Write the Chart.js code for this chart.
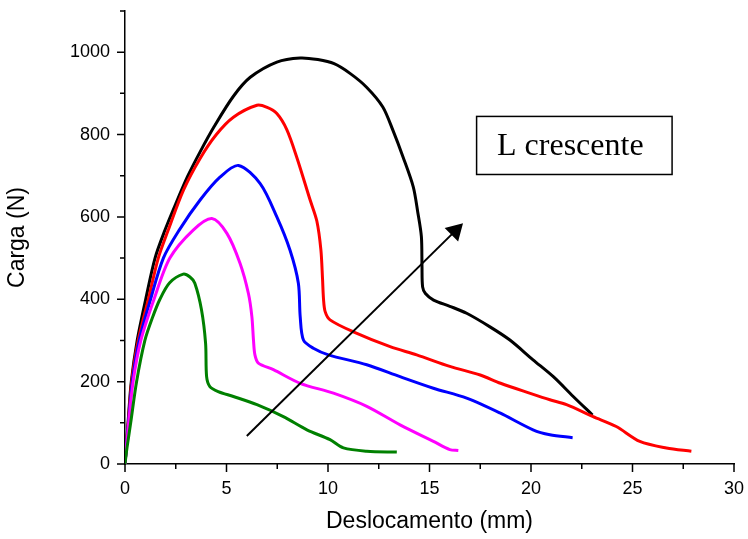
<!DOCTYPE html>
<html>
<head>
<meta charset="utf-8">
<script src="https://cdn.jsdelivr.net/npm/chart.js@4"></script>
<style>
	html, body { margin: 0; padding: 0; background: #fff; }
	#wrap { width: 748px; height: 539px; }
</style>
</head>
<body>
<div id="wrap"><canvas id="cargaChart"></canvas></div>
<script>
// data (x = mm, y = N)
const blackX = [0, 0.15, 0.31, 0.6, 1.02, 1.48, 1.97, 2.5, 3.1, 3.7, 4.4, 5.34, 6.17, 7.48, 8.63, 9.5, 10.3, 11.1, 11.9, 12.7, 13.2, 13.7, 14.2, 14.42, 14.6, 14.63, 14.66, 14.8, 15.2, 16.0, 16.83, 17.98, 18.96, 20.1, 21.1, 22.08, 23.03];
const blackY = [0, 100, 200, 300, 400, 500, 568, 632, 700, 758, 820, 893, 939, 976, 986, 982, 972, 948, 915, 867, 810, 745, 673, 612, 552, 480, 430, 414, 398, 383, 366, 333, 301, 253, 212, 164, 119];

const redX = [0, 0.16, 0.33, 0.65, 1.15, 1.64, 2.13, 2.88, 3.7, 4.5, 5.34, 6.5, 7.0, 7.48, 7.97, 8.46, 9.12, 9.45, 9.65, 9.73, 9.78, 9.86, 10.1, 11.25, 13.06, 14.37, 16.0, 17.5, 18.5, 20.0, 20.93, 21.75, 23.06, 24.2, 25.36, 26.67, 27.9];
const redY = [0, 100, 200, 300, 400, 500, 568, 665, 742, 800, 842, 871, 866, 851, 812, 745, 641, 590, 520, 450, 400, 370, 350, 321, 285, 265, 237, 216, 196, 171, 156, 144, 115, 91, 55, 39, 31];

const blueX = [0, 0.17, 0.36, 0.7, 1.26, 1.89, 2.67, 3.7, 4.69, 5.59, 6.66, 7.48, 8.13, 8.54, 8.63, 8.79, 9.28, 10.02, 11.91, 13.55, 15.19, 16.83, 18.47, 20.1, 20.93, 22.05];
const blueY = [0, 100, 200, 300, 400, 500, 568, 641, 697, 725, 681, 600, 519, 439, 358, 301, 281, 265, 241, 212, 184, 160, 124, 83, 71, 64];

const magentaX = [0, 0.18, 0.4, 0.78, 1.43, 2.21, 3.36, 4.28, 5.02, 5.67, 6.08, 6.25, 6.33, 6.4, 6.57, 7.31, 8.63, 10.27, 11.91, 13.55, 15.19, 16.0, 16.42];
const magentaY = [0, 100, 200, 300, 400, 500, 568, 596, 560, 487, 414, 358, 300, 265, 245, 229, 196, 172, 140, 95, 55, 35, 33];

const greenX = [0, 0.1, 0.28, 0.57, 0.98, 1.35, 1.72, 2.2, 2.87, 3.2, 3.44, 3.77, 3.97, 4.02, 4.18, 4.59, 5.34, 6.5, 7.8, 8.96, 10.1, 10.76, 11.91, 13.39];
const greenY = [0, 40, 100, 200, 300, 355, 400, 440, 461, 454, 439, 374, 293, 212, 188, 176, 164, 144, 115, 83, 59, 39, 31, 29];

// arrow "L crescente"
const arrowX = [6.0, 16.27];
const arrowY = [68, 566];

// text box corners (data units)
const boxX = [17.32, 26.95];
const boxY = [844, 703];
const boxLabel = 'L crescente';

const xTicks = [0, 5, 10, 15, 20, 25, 30];
const yTicks = [0, 200, 400, 600, 800, 1000];

function toPoints(xs, ys) {
	return xs.map((x, i) => ({ x: x, y: ys[i] }));
}

function curve(xs, ys, color) {
	return {
		data: toPoints(xs, ys),
		borderColor: color,
		backgroundColor: color,
		borderWidth: 3,
		pointRadius: 0,
		showLine: true,
		tension: 0.3,
		fill: false,
	};
}

// tick marks (major + minor, outward) and the text box
const decorPlugin = {
	id: 'decor',
	afterDraw(chart) {
		const ctx = chart.ctx;
		const xs = chart.scales.x;
		const ys = chart.scales.y;
		const area = chart.chartArea;
		ctx.save();
		ctx.strokeStyle = '#000';
		ctx.lineWidth = 1.5;
		ctx.beginPath();
		for (let v = 0; v <= 30; v += 2.5) {
			const px = xs.getPixelForValue(v);
			const len = (v % 5 === 0) ? 8 : 5;
			ctx.moveTo(px, area.bottom);
			ctx.lineTo(px, area.bottom + len);
		}
		for (let v = 0; v <= 1100; v += 100) {
			const py = ys.getPixelForValue(v);
			const len = (v % 200 === 0) ? 8 : 5;
			ctx.moveTo(area.left, py);
			ctx.lineTo(area.left - len, py);
		}
		ctx.stroke();

		// box
		const bx1 = xs.getPixelForValue(boxX[0]);
		const bx2 = xs.getPixelForValue(boxX[1]);
		const by1 = ys.getPixelForValue(boxY[0]);
		const by2 = ys.getPixelForValue(boxY[1]);
		ctx.lineWidth = 1.5;
		ctx.strokeRect(bx1, by1, bx2 - bx1, by2 - by1);
		ctx.fillStyle = '#000';
		ctx.font = '32px "Liberation Serif", "Times New Roman", serif';
		ctx.textAlign = 'center';
		ctx.textBaseline = 'middle';
		ctx.fillText(boxLabel, (bx1 + bx2) / 2 - 4, (by1 + by2) / 2 + 1);
		ctx.restore();
	}
};

const axisFont = { family: 'Arial, "Liberation Sans", sans-serif', size: 18 };
const titleFont = { family: 'Arial, "Liberation Sans", sans-serif', size: 23 };

new Chart(document.getElementById('cargaChart'), {
	type: 'scatter',
	data: {
		datasets: [
			{
				data: toPoints(arrowX, arrowY),
				borderColor: '#000',
				backgroundColor: '#000',
				borderWidth: 2,
				showLine: true,
				pointStyle: 'triangle',
				pointRadius: [0, 9],
				pointRotation: [0, 45],
				order: 0,
			},
			curve(greenX, greenY, '#008000'),
			curve(magentaX, magentaY, '#ff00ff'),
			curve(blueX, blueY, '#0000ff'),
			curve(redX, redY, '#ff0000'),
			curve(blackX, blackY, '#000000'),
		]
	},
	options: {
		responsive: true,
		maintainAspectRatio: false,
		animation: false,
		layout: { padding: { top: 10, right: 14, left: 0, bottom: 0 } },
		plugins: {
			legend: { display: false },
			tooltip: { enabled: false },
		},
		scales: {
			x: {
				type: 'linear',
				min: 0,
				max: 30,
				afterBuildTicks: (scale) => { scale.ticks = xTicks.map(v => ({ value: v })); },
				afterFit: (scale) => {
					scale.height = 75;
					scale.paddingLeft = 0;
					scale.paddingRight = 0;
				},
				grid: { display: false, drawTicks: true, tickLength: 8 },
				border: { display: true, color: '#000', width: 1.5 },
				ticks: { color: '#000', font: axisFont, padding: 6, maxRotation: 0, callback: (v) => String(v) },
				title: {
					display: true,
					text: 'Deslocamento (mm)',
					color: '#000',
					font: titleFont,
					padding: { top: 2 },
				},
			},
			y: {
				type: 'linear',
				min: 0,
				max: 1100,
				afterBuildTicks: (scale) => { scale.ticks = yTicks.map(v => ({ value: v })); },
				afterFit: (scale) => {
					scale.width = 125;
					scale.paddingTop = 0;
					scale.paddingBottom = 0;
				},
				grid: { display: false, drawTicks: true, tickLength: 8 },
				border: { display: true, color: '#000', width: 1.5 },
				ticks: { color: '#000', font: axisFont, padding: 7, callback: (v) => String(v) },
				title: {
					display: true,
					text: 'Carga (N)',
					color: '#000',
					font: titleFont,
					padding: { bottom: 0 },
				},
			}
		}
	},
	plugins: [decorPlugin]
});
</script>
</body>
</html>
